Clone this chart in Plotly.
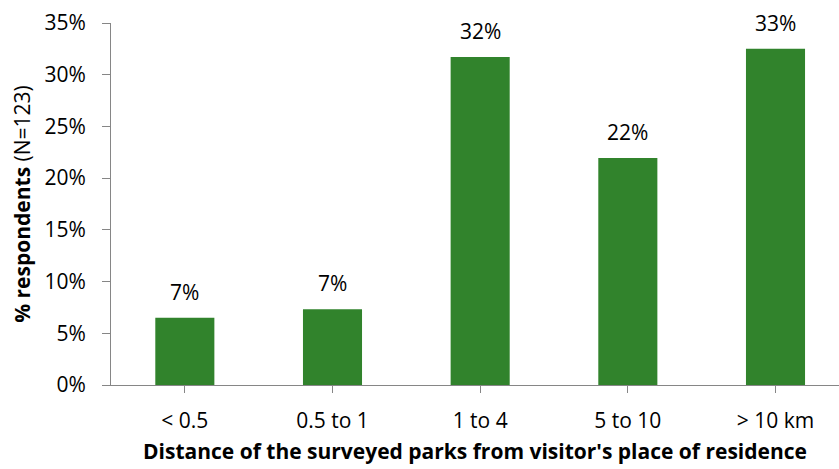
import plotly.graph_objects as go

# Share of respondents by distance between park and place of residence (N=123)
categories = ["< 0.5", "0.5 to 1", "1 to 4", "5 to 10", "> 10 km"]
shares = [0.06504, 0.07317, 0.31707, 0.21951, 0.32520]
y_ticks = [0, 0.05, 0.10, 0.15, 0.20, 0.25, 0.30, 0.35]

BAR_GREEN = "#31832C"
AXIS_GREY = "#868686"
FONT = "Open Sans"
SIZE = 21

fig = go.Figure(
    go.Bar(
        x=list(range(len(categories))),
        y=shares,
        width=0.4,
        marker=dict(color=BAR_GREEN, line=dict(width=0)),
        hoverinfo="skip",
    )
)

# value labels sitting above each bar
for i, v in enumerate(shares):
    fig.add_annotation(
        x=i, y=v, xref="x", yref="y",
        text=f"{v:.0%}",
        showarrow=False, yanchor="bottom", yshift=10,
        font=dict(family=FONT, size=SIZE, color="#000000"),
    )

fig.update_layout(
    width=839, height=469,
    margin=dict(l=111, r=0, t=23, b=84),
    paper_bgcolor="white", plot_bgcolor="white",
    showlegend=False,
    font=dict(family=FONT, size=SIZE, color="#000000"),
    xaxis=dict(
        range=[-0.5, 4.43],
        tickmode="array",
        tickvals=list(range(len(categories))),
        ticktext=categories,
        tickson="boundaries",
        ticks="outside", ticklen=7, tickcolor=AXIS_GREY, tickwidth=1,
        ticklabelstandoff=10,
        showline=True, linecolor=AXIS_GREY, linewidth=1,
        showgrid=False, zeroline=False,
        tickfont=dict(family=FONT, size=SIZE),
        title=dict(
            text="<b>Distance of the surveyed parks from visitor's place of residence</b>",
            font=dict(family=FONT, size=SIZE),
            standoff=11,
        ),
    ),
    yaxis=dict(
        range=[0, 0.35],
        tickmode="array",
        tickvals=y_ticks,
        tickformat=".0%",
        ticks="outside", ticklen=8, tickcolor=AXIS_GREY, tickwidth=1,
        ticklabelstandoff=12,
        showline=True, linecolor=AXIS_GREY, linewidth=1,
        showgrid=False, zeroline=False,
        tickfont=dict(family=FONT, size=SIZE),
        title=dict(
            text="<b>% respondents</b> (N=123)",
            font=dict(family=FONT, size=SIZE),
            standoff=8,
        ),
    ),
)

fig.write_html("out.html")
